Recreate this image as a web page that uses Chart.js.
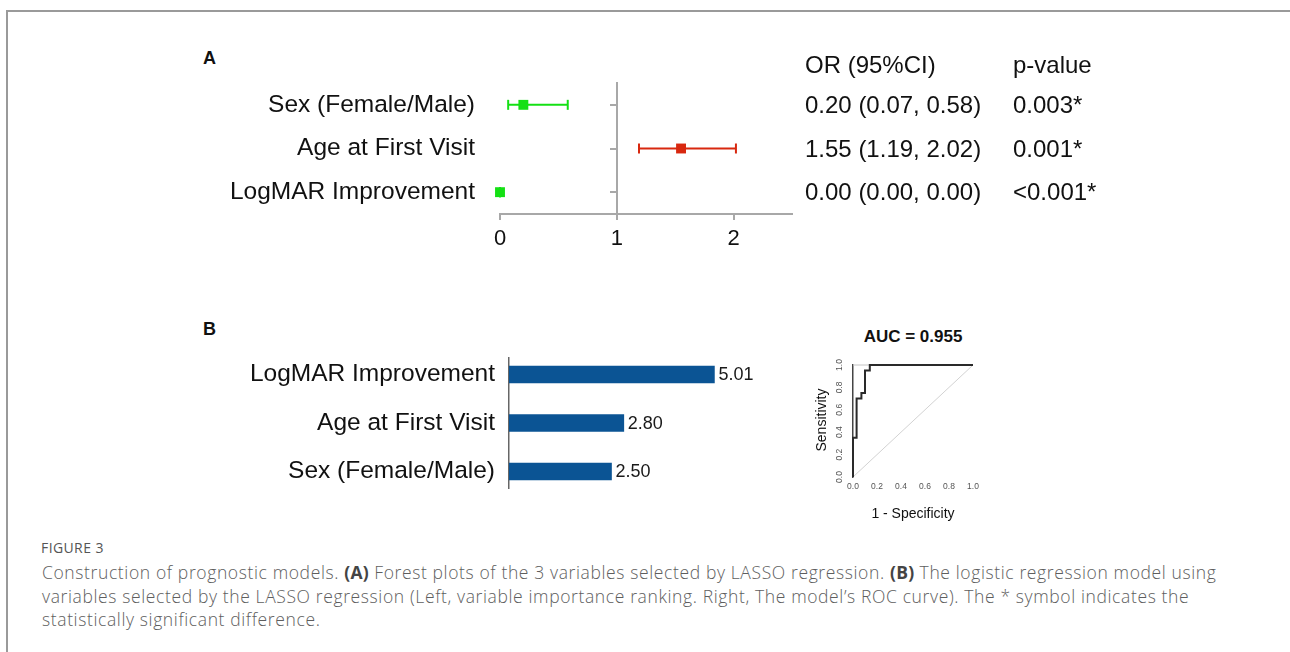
<!DOCTYPE html>
<html>
<head>
<meta charset="utf-8">
<script src="https://cdn.jsdelivr.net/npm/chart.js@4/dist/chart.umd.min.js"></script>
<style>
  html, body { margin: 0; padding: 0; background: #fff; }
  body { width: 1290px; height: 652px; position: relative; overflow: hidden; font-family: 'Liberation Sans', Arial, sans-serif; color: #111; }
  .frame { position: absolute; left: 6px; top: 10px; width: 1290px; height: 660px; border-top: 2px solid #9a9a9a; border-left: 2px solid #9a9a9a; }
  .abs { position: absolute; white-space: nowrap; }
  canvas { position: absolute; }
  .panel { font-weight: bold; font-size: 18px; line-height: 20px; }
  .tbl { font-size: 24px; line-height: 30px; color: #111; }
  .roc-title { font-weight: bold; font-size: 17px; line-height: 20px; }
  .roc-ax { font-size: 14px; line-height: 18px; }
  .cap-title { font-family: 'Open Sans', sans-serif; font-size: 14px; letter-spacing: 0.4px; color: #555; line-height: 20px; }
  .cap { font-family: 'Open Sans', sans-serif; font-weight: 300; font-size: 17.5px; letter-spacing: 0.62px; color: #5e5e5e; line-height: 23.5px; }
  .cap b { color: #444; font-weight: 700; letter-spacing: 0.3px; }
</style>
</head>
<body>
<div class="frame"></div>

<div class="abs panel" style="left:203px; top:48px;">A</div>
<div class="abs panel" style="left:203px; top:319px;">B</div>

<canvas id="forest" width="620" height="200" style="left:190px; top:60px;"></canvas>
<div id="table"></div>

<canvas id="bars" width="580" height="170" style="left:200px; top:340px;"></canvas>

<div class="abs roc-title" id="rocTitle" style="left:813px; width:200px; text-align:center; top:327px;"></div>
<canvas id="roc" width="190" height="210" style="left:800px; top:320px;"></canvas>
<div class="abs roc-ax" style="left:771px; top:411px; width:100px; text-align:center; transform: rotate(-90deg);">Sensitivity</div>
<div class="abs roc-ax" style="left:813px; top:504px; width:200px; text-align:center;">1 - Specificity</div>

<div class="abs cap-title" style="left:41px; top:538px;">FIGURE 3</div>
<div class="abs cap" style="left:42px; top:561px;">Construction of prognostic models. <b>(A)</b> Forest plots of the 3 variables selected by LASSO regression. <b>(B)</b> The logistic regression model using<br>variables selected by the LASSO regression (Left, variable importance ranking. Right, The model’s ROC curve). The * symbol indicates the<br>statistically significant difference.</div>

<script>
// ---------- Data ----------
// Panel A: forest plot
const forestLabels = ['Sex (Female/Male)', 'Age at First Visit', 'LogMAR Improvement'];
const forestRows = [3, 2, 1];
const forestOR = [0.20, 1.55, 0.00];
const forestLow = [0.07, 1.19, 0.00];
const forestHigh = [0.58, 2.02, 0.00];
const forestORText = ['0.20 (0.07, 0.58)', '1.55 (1.19, 2.02)', '0.00 (0.00, 0.00)'];
const forestPText = ['0.003*', '0.001*', '<0.001*'];
const forestTicks = [0, 1, 2];
const tableHeaders = ['OR (95%CI)', 'p-value'];

// Panel B left: variable importance
const barLabels = ['LogMAR Improvement', 'Age at First Visit', 'Sex (Female/Male)'];
const barRows = [3, 2, 1];
const barValues = [5.01, 2.80, 2.50];

// Panel B right: ROC curve
const rocFPR = [0, 0, 0.03, 0.07, 0.10, 0.14, 1.0];
const rocTPR = [0, 0.35, 0.70, 0.75, 0.95, 1.0, 1.0];
const rocTicks = [0, 0.2, 0.4, 0.6, 0.8, 1.0];
const rocDiagonal = [[0, 0], [1, 1]];
const rocTopLine = [[0, 1], [1, 1]];
const aucText = 'AUC = 0.955';

// ---------- Styles ----------
const FONT = "'Liberation Sans', Arial, sans-serif";
const GREEN = '#14e014';
const RED = '#d8280f';
const rowColors = [GREEN, RED, GREEN];
const AXIS_GRAY = '#a8a8a8';
const BAR_BLUE = '#0b5494';

Chart.defaults.font.family = FONT;
Chart.defaults.animation = false;

const noPad = s => { s.paddingTop = 0; s.paddingBottom = 0; };

// ---------- Table text (HTML) ----------
(function () {
  const t = document.getElementById('table');
  const colX = [805, 1013];
  const headerY = 65;
  const rowY = [105, 149, 192];
  tableHeaders.forEach((h, c) => {
    const d = document.createElement('div');
    d.className = 'abs tbl';
    d.style.left = colX[c] + 'px';
    d.style.top = (headerY - 15) + 'px';
    d.textContent = h;
    t.appendChild(d);
  });
  forestORText.forEach((s, i) => {
    [s, forestPText[i]].forEach((txt, c) => {
      const d = document.createElement('div');
      d.className = 'abs tbl';
      d.style.left = colX[c] + 'px';
      d.style.top = (rowY[i] - 15) + 'px';
      d.textContent = txt;
      t.appendChild(d);
    });
  });
  document.getElementById('rocTitle').textContent = aucText;
})();

// ---------- Forest plot ----------
const forestDatasets = [];
forestDatasets.push({
  type: 'scatter',
  data: forestOR.map((v, i) => ({ x: v, y: forestRows[i] })),
  pointStyle: 'rect',
  pointRadius: 7,
  pointBorderWidth: 0,
  pointBackgroundColor: rowColors,
  backgroundColor: rowColors,
  xAxisID: 'x', yAxisID: 'y',
  clip: false
});
forestRows.forEach((r, i) => {
  forestDatasets.push({
    type: 'line',
    data: [{ x: forestLow[i], y: r }, { x: forestHigh[i], y: r }],
    borderColor: rowColors[i],
    borderWidth: 2,
    pointStyle: 'line',
    pointRotation: 90,
    pointRadius: 5,
    pointBorderWidth: 2,
    pointBorderColor: rowColors[i],
    xAxisID: 'x', yAxisID: 'y',
    clip: false
  });
});

new Chart(document.getElementById('forest'), {
  data: { datasets: forestDatasets },
  options: {
    responsive: false,
    animation: false,
    layout: { padding: { left: 0, right: 18, top: 23, bottom: 0 } },
    plugins: { legend: { display: false }, tooltip: { enabled: false } },
    scales: {
      x: {
        type: 'linear', min: 0, max: 2.5,
        afterBuildTicks: s => { s.ticks = forestTicks.map(v => ({ value: v })); },
        afterFit: s => { s.height = 46; s.paddingLeft = 0; s.paddingRight = 0; },
        grid: { display: true, drawOnChartArea: false, drawTicks: true, tickLength: 6, color: AXIS_GRAY, lineWidth: 2 },
        border: { display: true, color: AXIS_GRAY, width: 2 },
        ticks: { font: { family: FONT, size: 22 }, color: '#111', padding: 6, maxRotation: 0 }
      },
      yl: {
        type: 'linear', position: 'left', min: 0.5, max: 3.5,
        afterBuildTicks: s => { s.ticks = forestRows.map(v => ({ value: v })); },
        afterFit: s => { s.width = 310; noPad(s); },
        grid: { display: false, drawTicks: false },
        border: { display: false },
        ticks: {
          font: { family: FONT, size: 24.5 }, color: '#111', padding: 25,
          callback: v => forestLabels[forestRows.indexOf(v)]
        }
      },
      y: {
        type: 'linear', position: { x: 1 }, min: 0.5, max: 3.5,
        afterBuildTicks: s => { s.ticks = forestRows.map(v => ({ value: v })); },
        afterFit: s => { noPad(s); },
        grid: { display: true, drawOnChartArea: false, drawTicks: true, tickLength: 6, color: AXIS_GRAY, lineWidth: 2 },
        border: { display: true, color: AXIS_GRAY, width: 2 },
        ticks: { display: false }
      }
    }
  }
});

// ---------- Variable importance bars ----------
const barValueLabels = {
  id: 'barValueLabels',
  afterDatasetsDraw(chart) {
    const ctx = chart.ctx;
    const meta = chart.getDatasetMeta(0);
    ctx.save();
    ctx.font = '18px ' + FONT;
    ctx.fillStyle = '#1a1a1a';
    ctx.textAlign = 'left';
    ctx.textBaseline = 'middle';
    meta.data.forEach((el, i) => {
      ctx.fillText(barValues[i].toFixed(2), el.x + 4, el.y + 1);
    });
    ctx.restore();
  }
};

new Chart(document.getElementById('bars'), {
  type: 'bar',
  data: {
    datasets: [{
      data: barValues.map((v, i) => ({ x: v, y: barRows[i] })),
      backgroundColor: BAR_BLUE,
      borderWidth: 0,
      barThickness: 17
    }]
  },
  options: {
    indexAxis: 'y',
    responsive: false,
    animation: false,
    layout: { padding: { left: 0, right: 25, top: 18, bottom: 22 } },
    plugins: { legend: { display: false }, tooltip: { enabled: false } },
    scales: {
      x: { type: 'linear', min: 0, max: 6, display: false },
      y: {
        type: 'linear', min: 0.66, max: 3.34, offset: false,
        afterBuildTicks: s => { s.ticks = barRows.map(v => ({ value: v })); },
        afterFit: s => { s.width = 309; noPad(s); },
        grid: { display: false, drawTicks: false, offset: false },
        border: { display: true, color: '#666', width: 1.5 },
        ticks: {
          font: { family: FONT, size: 24.5 }, color: '#111', padding: 14,
          callback: v => barLabels[barRows.indexOf(v)]
        }
      }
    }
  },
  plugins: [barValueLabels]
});

// ---------- ROC curve ----------
const rocYLabels = {
  id: 'rocYLabels',
  afterDraw(chart) {
    const ctx = chart.ctx;
    const ys = chart.scales.y;
    ctx.save();
    ctx.font = '8.5px ' + FONT;
    ctx.fillStyle = '#555';
    ctx.textAlign = 'center';
    ctx.textBaseline = 'middle';
    ys.ticks.forEach(t => {
      const py = ys.getPixelForValue(t.value);
      ctx.save();
      ctx.translate(ys.right - 13, py);
      ctx.rotate(-Math.PI / 2);
      ctx.fillText(t.value.toFixed(1), 0, 0);
      ctx.restore();
    });
    ctx.restore();
  }
};

new Chart(document.getElementById('roc'), {
  type: 'line',
  data: {
    datasets: [
      {
        data: rocFPR.map((v, i) => ({ x: v, y: rocTPR[i] })),
        stepped: 'before',
        borderColor: '#2a2a2a', borderWidth: 2, pointRadius: 0, clip: false
      },
      {
        data: rocTopLine.map(p => ({ x: p[0], y: p[1] })),
        borderColor: '#c4c4c4', borderWidth: 1, pointRadius: 0, clip: false
      },
      {
        data: rocDiagonal.map(p => ({ x: p[0], y: p[1] })),
        borderColor: '#d2d2d2', borderWidth: 1, pointRadius: 0, clip: false
      }
    ]
  },
  options: {
    responsive: false,
    animation: false,
    layout: { padding: { left: 0, right: 17, top: 45, bottom: 0 } },
    plugins: { legend: { display: false }, tooltip: { enabled: false } },
    scales: {
      x: {
        type: 'linear', min: 0, max: 1,
        afterBuildTicks: s => { s.ticks = rocTicks.map(v => ({ value: v })); },
        afterFit: s => { s.height = 53; },
        grid: { display: false, drawTicks: false },
        border: { display: false },
        ticks: { font: { family: FONT, size: 8.5 }, color: '#555', padding: 5, maxRotation: 0, callback: v => v.toFixed(1) }
      },
      y: {
        type: 'linear', min: 0, max: 1,
        afterBuildTicks: s => { s.ticks = rocTicks.map(v => ({ value: v })); },
        afterFit: s => { s.width = 53; noPad(s); },
        grid: { display: false, drawTicks: false },
        border: { display: true, color: '#444', width: 1.5 },
        ticks: { display: false }
      }
    }
  },
  plugins: [rocYLabels]
});
</script>
</body>
</html>
